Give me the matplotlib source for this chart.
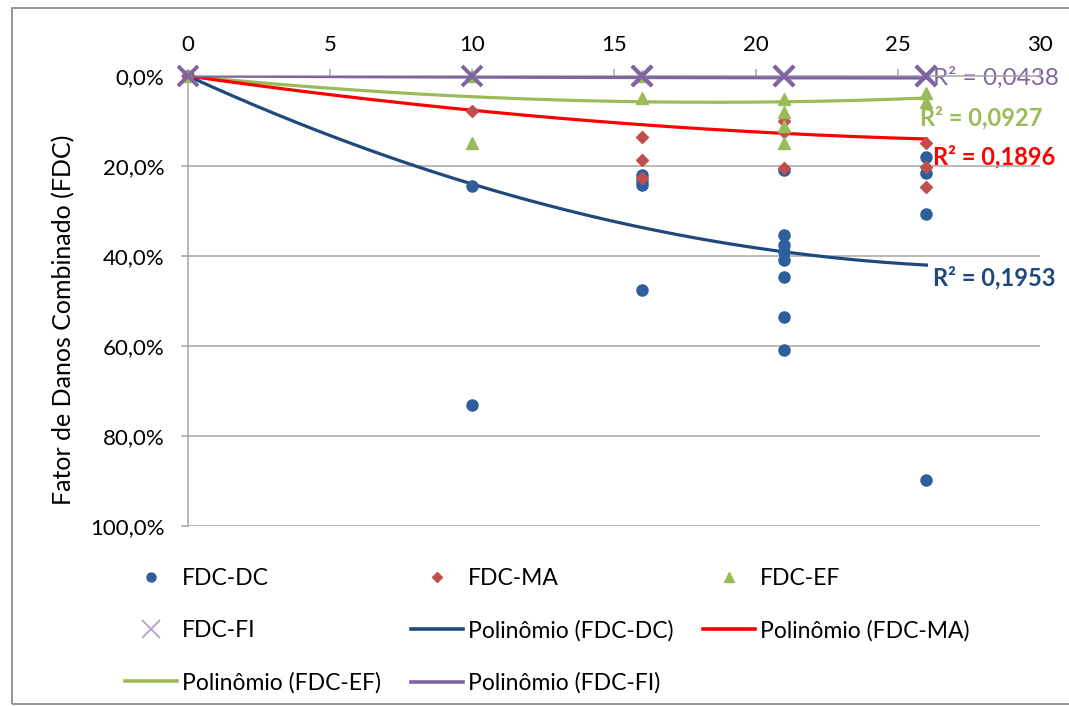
import numpy as np
import matplotlib
matplotlib.use("Agg")
import matplotlib.pyplot as plt
from matplotlib.lines import Line2D
from matplotlib.patches import Rectangle
from matplotlib.ticker import FuncFormatter

plt.rcParams['font.family'] = ['Lato', 'DejaVu Sans']

# ---- data (FDC in %) ----
x_dc = [0, 10, 10, 16, 16, 16, 16, 21, 21, 21, 21, 21, 21, 21, 21, 26, 26, 26, 26]
y_dc = [0, 24.4, 73.1, 22.0, 23.4, 24.2, 47.6, 20.9, 35.4, 37.6, 39.1, 40.9, 44.7, 53.6, 60.9, 18.0, 21.6, 30.7, 89.8]

x_ma = [0, 10, 16, 16, 16, 21, 21, 21, 26, 26, 26]
y_ma = [0, 7.8, 13.5, 18.7, 22.7, 10.1, 12.4, 20.4, 14.9, 20.2, 24.6]

x_ef = [0, 10, 10, 16, 16, 21, 21, 21, 21, 26, 26]
y_ef = [0, 0, 14.9, 0, 4.9, 5.0, 7.9, 11.2, 14.9, 3.8, 5.8]

x_fi = [0, 10, 16, 16, 21, 21, 26, 26]
y_fi = [0, 0, 0, 0, 0, 0, 0, 0]

# polynomial (order 2) trendline coefficients: a*x^2 + b*x + c  (in %)
trend_dc = [-0.049, 2.89, 0.0]
trend_ma = [-0.01385, 0.8985, 0.0]
trend_ef = [-0.017, 0.63, 0.0]
trend_fi = [-0.0005, 0.03, 0.0]

r2_labels = ["R² = 0,1953", "R² = 0,1896", "R² = 0,0927", "R² = 0,0438"]

x_ticks = [0, 5, 10, 15, 20, 25, 30]
y_ticks = [0, 20, 40, 60, 80, 100]

# ---- colors ----
c_dc_m = "#2E5F9C"
c_dc_l = "#1F497D"
c_ma_m = "#C0504D"
c_ma_l = "#FF0000"
c_ef = "#9BBB59"
c_fi = "#8064A2"
c_fi_leg = "#B3A2C7"
grid_c = "#A6A6A6"

W, H = 1069, 706
fig = plt.figure(figsize=(W / 100, H / 100), dpi=100)
ax = fig.add_axes([188 / W, 1 - 526 / H, (1040 - 188) / W, (526 - 76) / H])

# frame around the chart
fig.patches.append(Rectangle((12 / W, 2 / H), 1.2, 1 - 10 / H, transform=fig.transFigure,
                             fill=False, edgecolor="#8C8C8C", linewidth=1.3))

ax.set_xlim(0, 30)
ax.set_ylim(100, 0)

for yv in y_ticks[1:]:
    ax.axhline(yv, color=grid_c, lw=1.1, zorder=1)

xs = np.linspace(0, 26, 200)
ax.plot(xs, np.polyval(trend_ef, xs), color=c_ef, lw=2.3, zorder=3)
ax.plot(xs, np.polyval(trend_ma, xs), color=c_ma_l, lw=2.3, zorder=3)
ax.plot(xs, np.polyval(trend_dc, xs), color=c_dc_l, lw=2.3, zorder=3)
ax.plot(xs, np.polyval(trend_fi, xs), color=c_fi, lw=2.3, zorder=3)

ax.plot(x_dc, y_dc, 'o', color=c_dc_m, ms=8, mec=c_dc_m, ls='none', zorder=4, clip_on=False)
ax.plot(x_ma, y_ma, 'D', color=c_ma_m, ms=6.5, ls='none', zorder=4, clip_on=False)
ax.plot(x_ef, y_ef, '^', color=c_ef, ms=8.5, ls='none', zorder=4, clip_on=False)
ax.plot(x_fi, y_fi, 'x', color=c_fi, ms=15, mew=2.8, ls='none', zorder=5, clip_on=False)

# R² labels
ax.text(26.23, 44.7, r2_labels[0], color=c_dc_l, fontsize=17, fontweight='bold', va='center', ha='left', zorder=0.5)
ax.text(26.23, 18.0, r2_labels[1], color=c_ma_l, fontsize=17, fontweight='bold', va='center', ha='left', zorder=0.5)
ax.text(25.77, 9.3, r2_labels[2], color=c_ef, fontsize=17, fontweight='bold', va='center', ha='left', zorder=0.5)
ax.text(26.23, 0.5, r2_labels[3], color=c_fi, fontsize=17.5, va='center', ha='left', zorder=0.5, clip_on=False)

# axes styling
ax.xaxis.tick_top()
ax.set_xticks(x_ticks)
ax.set_yticks(y_ticks)
ax.yaxis.set_major_formatter(FuncFormatter(lambda v, p: f"{v:.1f}%".replace('.', ',')))
ax.tick_params(axis='both', colors=grid_c, labelcolor='black', labelsize=16, length=5, width=1.1, direction='out')
ax.tick_params(axis='x', pad=10)
ax.tick_params(axis='y', pad=12)
for s in ['right', 'bottom']:
    ax.spines[s].set_visible(False)
for s in ['left', 'top']:
    ax.spines[s].set_color(grid_c)
    ax.spines[s].set_linewidth(1.1)
    ax.spines[s].set_zorder(1)
ax.set_ylabel("Fator de Danos Combinado (FDC)", fontsize=18)
ax.yaxis.set_label_coords(-0.132, 0.458)

# legend (Excel fills rows; matplotlib fills columns)
h_dc = Line2D([], [], marker='o', color=c_dc_m, ls='none', ms=6.5)
h_ma = Line2D([], [], marker='D', color=c_ma_m, ls='none', ms=5)
h_ef = Line2D([], [], marker='^', color=c_ef, ls='none', ms=7)
h_fi = Line2D([], [], marker='x', color=c_fi_leg, ls='none', ms=13, mew=1.3)
p_dc = Line2D([], [], color=c_dc_l, lw=2.6)
p_ma = Line2D([], [], color=c_ma_l, lw=2.6)
p_ef = Line2D([], [], color=c_ef, lw=2.6)
p_fi = Line2D([], [], color=c_fi, lw=2.6)
handles = [h_dc, h_fi, p_ef, h_ma, p_dc, p_fi, h_ef, p_ma]
labels = ["FDC-DC", "FDC-FI", "Polinômio (FDC-EF)", "FDC-MA", "Polinômio (FDC-DC)",
          "Polinômio (FDC-FI)", "FDC-EF", "Polinômio (FDC-MA)"]
fig.legend(handles, labels, ncol=3, loc='upper left', bbox_to_anchor=(125 / W, 1 - 568 / H),
           frameon=False, fontsize=16.5, handlelength=2.27, handletextpad=0.22,
           columnspacing=1.3, labelspacing=1.35, borderaxespad=0, borderpad=0)

fig.savefig("out.png", dpi=100)
